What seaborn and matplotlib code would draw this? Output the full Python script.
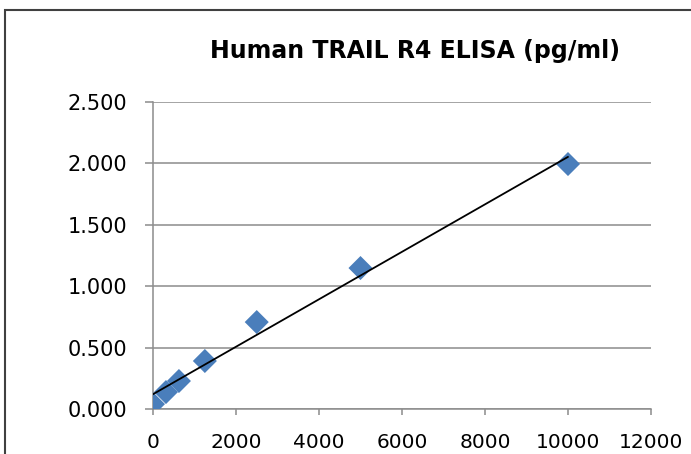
import numpy as np
import pandas as pd
import matplotlib
matplotlib.use('Agg')
import matplotlib.pyplot as plt
import seaborn as sns
from matplotlib.patches import Rectangle
from matplotlib.ticker import FormatStrFormatter

# Standard curve readings (concentration in pg/ml vs optical density)
conc = [0, 312.5, 625, 1250, 2500, 5000, 10000]
od = [0.040, 0.138, 0.228, 0.391, 0.708, 1.148, 1.995]

x_ticks = [0, 2000, 4000, 6000, 8000, 10000, 12000]
y_ticks = [0.0, 0.5, 1.0, 1.5, 2.0, 2.5]

df = pd.DataFrame({'conc': conc, 'od': od})

sns.set_style('white')
plt.rcParams['font.family'] = ['DejaVu Sans']

fig = plt.figure(figsize=(6.91, 4.54), dpi=100)
ax = fig.add_axes([0.2214, 0.0991, 0.7207, 0.6762])

# horizontal gridlines like Excel
for y in y_ticks:
    ax.axhline(y, color='#8c8c8c', lw=1.1, zorder=0)

sns.scatterplot(data=df, x='conc', y='od', marker='D', s=150,
                color='#4a7ebb', edgecolor='none', ax=ax, zorder=3)

# linear trendline
slope, intercept = np.polyfit(df['conc'], df['od'], 1)
xs = np.array([df['conc'].min(), df['conc'].max()])
ax.plot(xs, slope * xs + intercept, color='black', lw=1.3, zorder=4)

ax.set_xlim(0, 12000)
ax.set_ylim(0, 2.5)
ax.set_xticks(x_ticks)
ax.set_yticks(y_ticks)
ax.yaxis.set_major_formatter(FormatStrFormatter('%.3f'))
ax.set_xlabel('')
ax.set_ylabel('')

for side in ['top', 'right']:
    ax.spines[side].set_visible(False)
for side in ['left', 'bottom']:
    ax.spines[side].set_color('#8c8c8c')
    ax.spines[side].set_linewidth(1.1)

ax.tick_params(axis='x', direction='out', length=4.5, width=1.1, color='#8c8c8c',
               labelsize=14.5, pad=12.5, bottom=True)
ax.tick_params(axis='y', direction='out', length=5.8, width=1.1, color='#8c8c8c',
               labelsize=15, pad=13, left=True)
for lbl in ax.get_xticklabels() + ax.get_yticklabels():
    lbl.set_color('black')

fig.text(0.601, 1 - 58 / 454, 'Human TRAIL R4 ELISA (pg/ml)', ha='center', va='baseline',
         fontsize=17, fontweight='bold', color='black')

# chart area border (cropped on right and bottom)
fig.patches.append(Rectangle((5 / 691, -0.05), 1.1, 1 - 10 / 454 + 0.05,
                             transform=fig.transFigure, fill=False,
                             edgecolor='#404040', lw=1.5))

fig.savefig('out.png', dpi=100)
